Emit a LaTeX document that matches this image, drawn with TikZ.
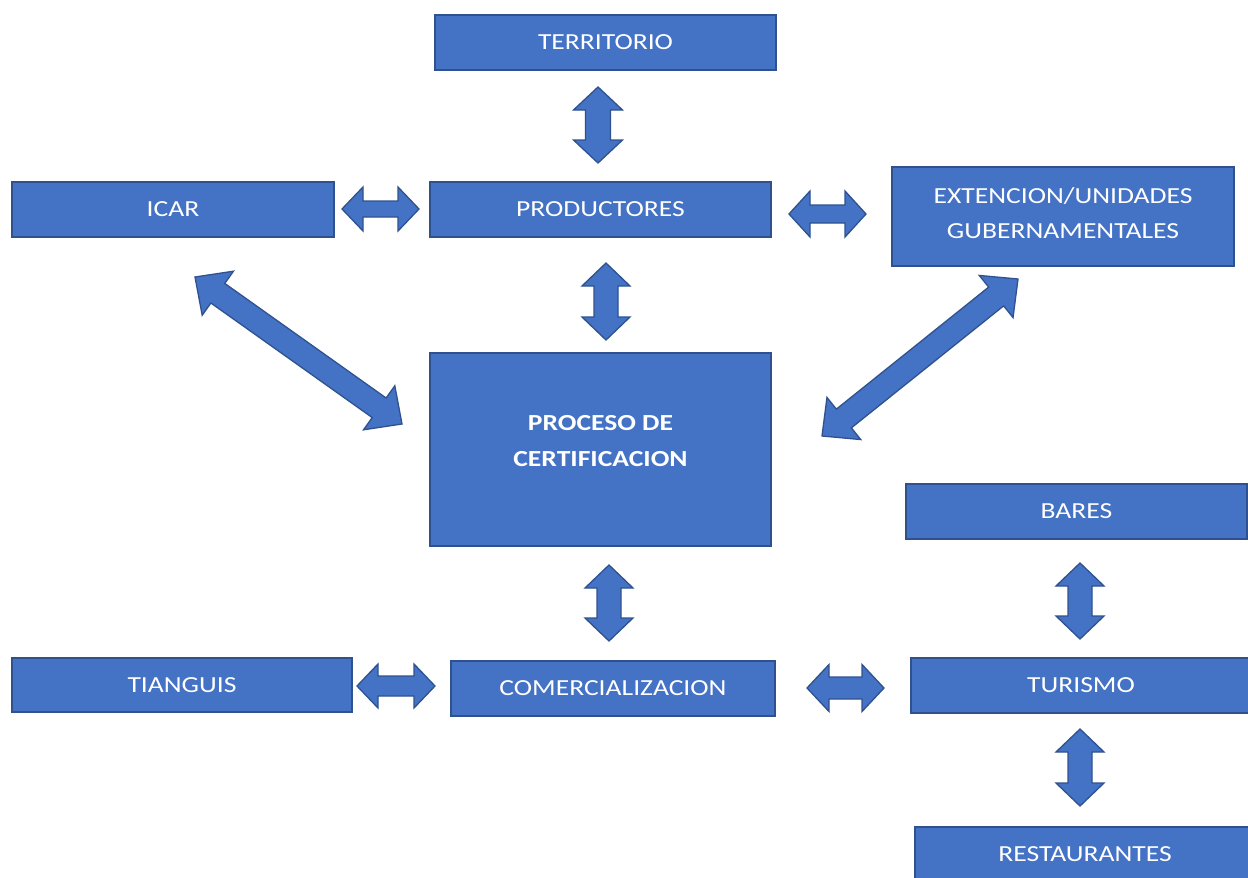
\documentclass[tikz,border=0pt]{standalone}
\usepackage{fontspec}
\setmainfont{Carlito}[FakeStretch=1.2]
\usetikzlibrary{calc}
\definecolor{boxfill}{HTML}{4472C4}
\definecolor{boxline}{HTML}{2F528F}
\tikzset{
  box/.style={draw=boxline, line width=1.5pt, fill=boxfill, text=white, inner sep=0pt, outer sep=0pt, align=center, font=\fontsize{23}{35}\selectfont},
  barrow/.style={draw=boxline, line width=1.3pt, fill=boxfill, line join=miter}
}
% #1 start, #2 end, #3 shaft half width, #4 head half width, #5 head length
\newcommand{\blockarrow}[5]{%
  \coordinate (bas) at ($(#1)!#5!(#2)$);
  \coordinate (bae) at ($(#2)!#5!(#1)$);
  \draw[barrow] (#1) -- ($(bas)!#4!90:(#2)$) -- ($(bas)!#3!90:(#2)$) -- ($(bae)!#3!-90:(#1)$) -- ($(bae)!#4!-90:(#1)$) -- (#2) -- ($(bae)!#4!90:(#1)$) -- ($(bae)!#3!90:(#1)$) -- ($(bas)!#3!-90:(#2)$) -- ($(bas)!#4!-90:(#2)$) -- cycle;%
}
\begin{document}
\begin{tikzpicture}[x=1pt,y=-1pt]
\useasboundingbox (0,0) rectangle (1248,878);
\clip (0,0) rectangle (1248,878);
\fill[white] (0,0) rectangle (1248,878);

\node[box, minimum width=341pt, minimum height=55pt] (terr) at (605.5,42.5) {TERRITORIO};
\node[box, minimum width=322pt, minimum height=55pt] (icar) at (173,209.5) {ICAR};
\node[box, minimum width=341pt, minimum height=55pt] (prod) at (600.5,209.5) {PRODUCTORES};
\node[box, minimum width=342pt, minimum height=99pt, text depth=6pt] (ext) at (1063,216.5) {EXTENCION/UNIDADES\\GUBERNAMENTALES};
\node[box, minimum width=341pt, minimum height=193pt, text depth=18pt, font=\fontsize{23}{36}\selectfont\bfseries] (proc) at (600.5,449.5) {PROCESO DE\\CERTIFICACION};
\node[box, minimum width=341pt, minimum height=55pt] (bares) at (1076.5,511.5) {BARES};
\node[box, minimum width=340pt, minimum height=54pt] (tiang) at (182,685) {TIANGUIS};
\node[box, minimum width=324pt, minimum height=55pt] (com) at (613,688.5) {COMERCIALIZACION};
\node[box, minimum width=340pt, minimum height=55pt] (tur) at (1081,685.5) {TURISMO};
\node[box, minimum width=340pt, minimum height=55pt] (rest) at (1085,854.5) {RESTAURANTES};

% arrow end points
\coordinate (a1s) at (598,87);   \coordinate (a1e) at (598,163);
\coordinate (a2s) at (342,209);  \coordinate (a2e) at (419,209);
\coordinate (a3s) at (789,214);  \coordinate (a3e) at (866,214);
\coordinate (a4s) at (606,263);  \coordinate (a4e) at (606,340);
\coordinate (a5s) at (195,277);  \coordinate (a5e) at (402,424);
\coordinate (a6s) at (1018,279); \coordinate (a6e) at (822,436);
\coordinate (a7s) at (609,565);  \coordinate (a7e) at (609,641);
\coordinate (a8s) at (357,686);  \coordinate (a8e) at (435,686);
\coordinate (a9s) at (807,688);  \coordinate (a9e) at (884,688);
\coordinate (a10s) at (1080,563); \coordinate (a10e) at (1080,639);
\coordinate (a11s) at (1080,729); \coordinate (a11e) at (1080,806);

\blockarrow{a1s}{a1e}{12.5pt}{24.5pt}{23pt}
\blockarrow{a2s}{a2e}{8pt}{22pt}{21pt}
\blockarrow{a3s}{a3e}{9pt}{23pt}{21pt}
\blockarrow{a4s}{a4e}{12pt}{24pt}{23pt}
\blockarrow{a5s}{a5e}{12pt}{27pt}{28pt}
\blockarrow{a6s}{a6e}{12pt}{27pt}{28pt}
\blockarrow{a7s}{a7e}{12pt}{24pt}{23pt}
\blockarrow{a8s}{a8e}{10pt}{22pt}{21pt}
\blockarrow{a9s}{a9e}{11pt}{23.5pt}{22pt}
\blockarrow{a10s}{a10e}{12pt}{24pt}{23pt}
\blockarrow{a11s}{a11e}{12pt}{24pt}{23pt}
\end{tikzpicture}
\end{document}
